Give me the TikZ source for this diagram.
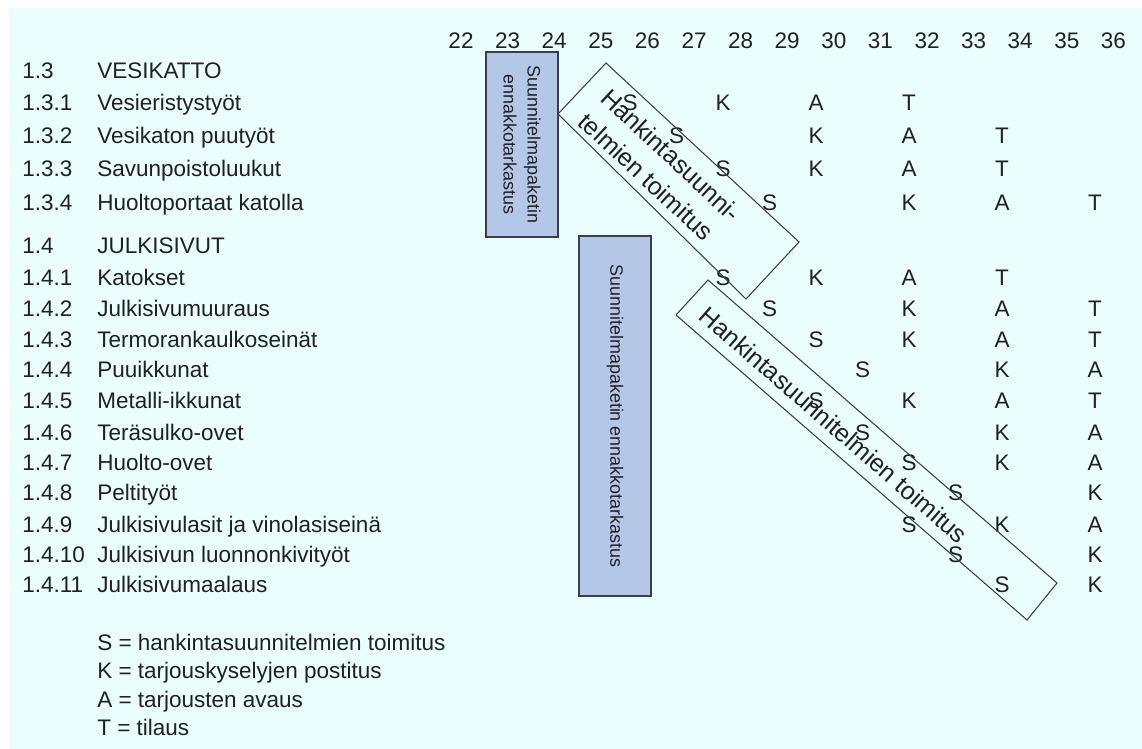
\documentclass[tikz,border=0pt]{standalone}
\usepackage{fontspec}
\setmainfont{Liberation Sans}
\usepackage{tikz}
\usepackage{xcolor}
\usetikzlibrary{calc}
\definecolor{bgcyan}{RGB}{234,254,254}
\definecolor{boxblue}{RGB}{180,199,231}
\definecolor{edgegray}{RGB}{58,62,78}
\definecolor{inkgray}{RGB}{32,32,38}

\begin{document}
\begin{tikzpicture}[x=0.02cm,y=-0.02cm]
        \tikzstyle{every node}=[inner sep=0pt,text=inkgray,font=\fontsize{12.8}{15.4}\selectfont]
        \tikzstyle{lbl}=[anchor=base west]
        \tikzstyle{cell}=[anchor=base]
        \tikzstyle{bluebox}=[draw=edgegray,line width=0.8pt,fill=boxblue,rotate=-90,align=center,
                minimum height=1.44cm,font=\fontsize{10.2}{13.6}\selectfont]
        \tikzstyle{diagbox}=[draw=edgegray,line width=0.6pt]
        \tikzstyle{diagtext}=[align=left,font=\fontsize{14.2}{18.7}\selectfont]

        \useasboundingbox (0,0) rectangle (1142,749);
        \fill[bgcyan] (9,8) rectangle (1142,749);

        % weeks
        \node[cell] (w22) at (461,49) {22};
        \node[cell] (w23) at (507.6,49) {23};
        \node[cell] (w24) at (554.2,49) {24};
        \node[cell] (w25) at (600.8,49) {25};
        \node[cell] (w26) at (647.4,49) {26};
        \node[cell] (w27) at (694,49) {27};
        \node[cell] (w28) at (740.6,49) {28};
        \node[cell] (w29) at (787.2,49) {29};
        \node[cell] (w30) at (833.8,49) {30};
        \node[cell] (w31) at (880.4,49) {31};
        \node[cell] (w32) at (927,49) {32};
        \node[cell] (w33) at (973.6,49) {33};
        \node[cell] (w34) at (1020.2,49) {34};
        \node[cell] (w35) at (1066.8,49) {35};
        \node[cell] (w36) at (1113.4,49) {36};

        % rows
        \node[lbl] (n13) at (22,79) {1.3};
        \node[lbl] (n131) at (22,111) {1.3.1};
        \node[lbl] (n132) at (22,144) {1.3.2};
        \node[lbl] (n133) at (22,176.5) {1.3.3};
        \node[lbl] (n134) at (22,210.5) {1.3.4};
        \node[lbl] (n14) at (22,253.5) {1.4};
        \node[lbl] (n141) at (22,285.5) {1.4.1};
        \node[lbl] (n142) at (22,316.5) {1.4.2};
        \node[lbl] (n143) at (22,347.5) {1.4.3};
        \node[lbl] (n144) at (22,377.5) {1.4.4};
        \node[lbl] (n145) at (22,408.5) {1.4.5};
        \node[lbl] (n146) at (22,440) {1.4.6};
        \node[lbl] (n147) at (22,470.5) {1.4.7};
        \node[lbl] (n148) at (22,500.5) {1.4.8};
        \node[lbl] (n149) at (22,532.5) {1.4.9};
        \node[lbl] (n1410) at (22,562.5) {1.4.10};
        \node[lbl] (n1411) at (22,592.5) {1.4.11};

        \node[lbl] (t13) at ($(n13.base west)+(75,0)$) {VESIKATTO};
        \node[lbl] (t131) at ($(n131.base west)+(75,0)$) {Vesieristystyöt};
        \node[lbl] (t132) at ($(n132.base west)+(75,0)$) {Vesikaton puutyöt};
        \node[lbl] (t133) at ($(n133.base west)+(75,0)$) {Savunpoistoluukut};
        \node[lbl] (t134) at ($(n134.base west)+(75,0)$) {Huoltoportaat katolla};
        \node[lbl] (t14) at ($(n14.base west)+(75,0)$) {JULKISIVUT};
        \node[lbl] (t141) at ($(n141.base west)+(75,0)$) {Katokset};
        \node[lbl] (t142) at ($(n142.base west)+(75,0)$) {Julkisivumuuraus};
        \node[lbl] (t143) at ($(n143.base west)+(75,0)$) {Termorankaulkoseinät};
        \node[lbl] (t144) at ($(n144.base west)+(75,0)$) {Puuikkunat};
        \node[lbl] (t145) at ($(n145.base west)+(75,0)$) {Metalli-ikkunat};
        \node[lbl] (t146) at ($(n146.base west)+(75,0)$) {Teräsulko-ovet};
        \node[lbl] (t147) at ($(n147.base west)+(75,0)$) {Huolto-ovet};
        \node[lbl] (t148) at ($(n148.base west)+(75,0)$) {Peltityöt};
        \node[lbl] (t149) at ($(n149.base west)+(75,0)$) {Julkisivulasit ja vinolasiseinä};
        \node[lbl] (t1410) at ($(n1410.base west)+(75,0)$) {Julkisivun luonnonkivityöt};
        \node[lbl] (t1411) at ($(n1411.base west)+(75,0)$) {Julkisivumaalaus};

        % S K A T
        \node[cell] (s131) at (630,111) {S};
        \node[cell] (k131) at (723,111) {K};
        \node[cell] (a131) at (816,111) {A};
        \node[cell] (t131x) at (909,111) {T};
        \node[cell] (s132) at (676.5,144) {S};
        \node[cell] (k132) at (816,144) {K};
        \node[cell] (a132) at (909,144) {A};
        \node[cell] (t132x) at (1002,144) {T};
        \node[cell] (s133) at (723,176.5) {S};
        \node[cell] (k133) at (816,176.5) {K};
        \node[cell] (a133) at (909,176.5) {A};
        \node[cell] (t133x) at (1002,176.5) {T};
        \node[cell] (s134) at (769.5,210.5) {S};
        \node[cell] (k134) at (909,210.5) {K};
        \node[cell] (a134) at (1002,210.5) {A};
        \node[cell] (t134x) at (1095,210.5) {T};

        \node[cell] (s141) at (723,285.5) {S};
        \node[cell] (k141) at (816,285.5) {K};
        \node[cell] (a141) at (909,285.5) {A};
        \node[cell] (t141x) at (1002,285.5) {T};
        \node[cell] (s142) at (769.5,316.5) {S};
        \node[cell] (k142) at (909,316.5) {K};
        \node[cell] (a142) at (1002,316.5) {A};
        \node[cell] (t142x) at (1095,316.5) {T};
        \node[cell] (s143) at (816,347.5) {S};
        \node[cell] (k143) at (909,347.5) {K};
        \node[cell] (a143) at (1002,347.5) {A};
        \node[cell] (t143x) at (1095,347.5) {T};
        \node[cell] (s144) at (862.5,377.5) {S};
        \node[cell] (k144) at (1002,377.5) {K};
        \node[cell] (a144) at (1095,377.5) {A};
        \node[cell] (s145) at (816,408.5) {S};
        \node[cell] (k145) at (909,408.5) {K};
        \node[cell] (a145) at (1002,408.5) {A};
        \node[cell] (t145x) at (1095,408.5) {T};
        \node[cell] (s146) at (862.5,440) {S};
        \node[cell] (k146) at (1002,440) {K};
        \node[cell] (a146) at (1095,440) {A};
        \node[cell] (s147) at (909,470.5) {S};
        \node[cell] (k147) at (1002,470.5) {K};
        \node[cell] (a147) at (1095,470.5) {A};
        \node[cell] (s148) at (955.5,500.5) {S};
        \node[cell] (k148) at (1095,500.5) {K};
        \node[cell] (s149) at (909,532.5) {S};
        \node[cell] (k149) at (1002,532.5) {K};
        \node[cell] (a149) at (1095,532.5) {A};
        \node[cell] (s1410) at (955.5,562.5) {S};
        \node[cell] (k1410) at (1095,562.5) {K};
        \node[cell] (s1411) at (1002,592.5) {S};
        \node[cell] (k1411) at (1095,592.5) {K};

        % boxes
        \node[bluebox,minimum width=3.7cm] (pk1) at (522,144.5) {Suunnitelmapaketin\\ennakkotarkastus};
        \node[bluebox,minimum width=7.2cm] (pk2) at (615,416) {Suunnitelmapaketin ennakkotarkastus};

        \draw[diagbox] (606,63) -- (799,242) -- (746,299) -- (558,114) -- cycle;
        \node[diagtext,rotate=-43] (hk1) at (660,167) {Hankintasuunni-\\telmien toimitus};
        \draw[diagbox] (708,280) -- (1057,583) -- (1027,620) -- (676,315) -- cycle;
        \node[diagtext,rotate=-41] (hk2) at (834,425) {Hankintasuunnitelmien toimitus};

        % legend
        \node[lbl] (lgs) at (97,650.5) {S = hankintasuunnitelmien toimitus};
        \node[lbl] (lgk) at (97,678.5) {K = tarjouskyselyjen postitus};
        \node[lbl] (lga) at (97,707.5) {A = tarjousten avaus};
        \node[lbl] (lgt) at (97,735.5) {T = tilaus};
\end{tikzpicture}
\end{document}
